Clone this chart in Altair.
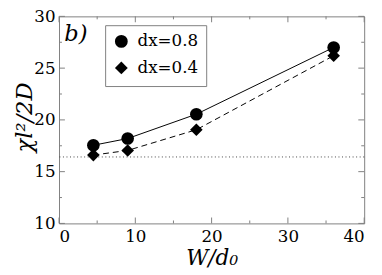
import altair as alt
import pandas as pd

# ---- data ----
w_vals = [4.5, 9.0, 18.0, 36.0]
chi_dx08 = [17.55, 18.2, 20.55, 27.0]
chi_dx04 = [16.6, 17.05, 19.05, 26.2]
series_names = ["dx=0.8", "dx=0.4"]
baseline_value = [16.42]
x_major_ticks = [0, 10, 20, 30, 40]
x_minor_ticks = [5, 15, 25, 35]
y_major_ticks = [10, 15, 20, 25, 30]
y_minor_ticks = [12.5, 17.5, 22.5, 27.5]
x_range = [0, 40]
y_range = [10, 30]
panel_text = ["b)"]
panel_pos_x = [2.2]
panel_pos_y = [28.3]

rows = []
for name, vals in zip(series_names, [chi_dx08, chi_dx04]):
    for w, v in zip(w_vals, vals):
        rows.append({"W": w, "chi": v, "series": name})
df = pd.DataFrame(rows)
base_df = pd.DataFrame({"chi": baseline_value})
txt_df = pd.DataFrame({"W": panel_pos_x, "chi": panel_pos_y, "t": panel_text})

W, H = 311, 211
FONT = "DejaVu Serif"
GRAY = "#808080"
MAJ, MIN = 6, 3

xs = alt.Scale(domain=x_range, nice=False, zero=False)
ys = alt.Scale(domain=y_range, nice=False, zero=False)

x_axis = alt.Axis(values=x_major_ticks, ticks=False, tickSize=0, domain=False, grid=False,
                  labelFont=FONT, labelFontSize=17, labelColor="black", labelPadding=5,
                  title="W/d₀", titleFont=FONT, titleFontSize=22, titleFontStyle="italic",
                  titleFontWeight="normal", titleColor="black", titleBaseline="alphabetic",
                  titleY=42, titleX=W / 2, titleAlign="center")
y_axis = alt.Axis(values=y_major_ticks, ticks=False, tickSize=0, domain=False, grid=False,
                  labelFont=FONT, labelFontSize=17, labelColor="black", labelPadding=4,
                  title="χl²/2D", titleFont=FONT, titleFontSize=23, titleFontStyle="italic",
                  titleFontWeight="normal", titleColor="black", titleBaseline="alphabetic",
                  titleX=-28, titleY=H / 2 - 3, titleAlign="center", titleAngle=270)

dotted = alt.Chart(base_df).mark_rule(color="#444444", strokeWidth=1, strokeDash=[1, 2.6]).encode(
    y=alt.Y("chi:Q", scale=ys),
)


def x_tick_layer(vals, y0, y1):
    d = pd.DataFrame({"W": vals})
    return alt.Chart(d).mark_rule(color=GRAY, strokeWidth=1).encode(
        x=alt.X("W:Q", scale=xs), y=alt.value(y0), y2=alt.value(y1))


def y_tick_layer(vals, x0, x1):
    d = pd.DataFrame({"chi": vals})
    return alt.Chart(d).mark_rule(color=GRAY, strokeWidth=1).encode(
        y=alt.Y("chi:Q", scale=ys), x=alt.value(x0), x2=alt.value(x1))


tick_layers = [
    x_tick_layer(x_major_ticks, H, H - MAJ),
    x_tick_layer(x_minor_ticks, H, H - MIN),
    x_tick_layer(x_major_ticks, 0, MAJ),
    x_tick_layer(x_minor_ticks, 0, MIN),
    y_tick_layer(y_major_ticks, 0, MAJ),
    y_tick_layer(y_minor_ticks, 0, MIN),
    y_tick_layer(y_major_ticks, W, W - MAJ),
    y_tick_layer(y_minor_ticks, W, W - MIN),
]

line08 = alt.Chart(df).transform_filter(alt.datum.series == series_names[0]).mark_line(
    color="black", strokeWidth=1).encode(x=alt.X("W:Q", scale=xs, axis=x_axis),
                                         y=alt.Y("chi:Q", scale=ys, axis=y_axis))
line04 = alt.Chart(df).transform_filter(alt.datum.series == series_names[1]).mark_line(
    color="black", strokeWidth=1, strokeDash=[6, 4]).encode(x=alt.X("W:Q", scale=xs), y=alt.Y("chi:Q", scale=ys))

leg = alt.Legend(title=None, orient="none", legendX=47, legendY=9, strokeColor=GRAY, fillColor="white",
                 padding=8, labelFont=FONT, labelFontSize=17, labelColor="black", labelOffset=8,
                 symbolFillColor="black", symbolStrokeColor="black", rowPadding=6, symbolSize=170)

points = alt.Chart(df).mark_point(filled=True, color="black", opacity=1, size=165).encode(
    x=alt.X("W:Q", scale=xs),
    y=alt.Y("chi:Q", scale=ys),
    shape=alt.Shape("series:N", scale=alt.Scale(domain=series_names, range=["circle", "diamond"]),
                    legend=leg),
)

label = alt.Chart(txt_df).mark_text(font=FONT, fontSize=23, fontStyle="italic", color="black",
                                    align="center", baseline="middle").encode(
    x=alt.X("W:Q", scale=xs),
    y=alt.Y("chi:Q", scale=ys),
    text="t:N",
)

chart = alt.layer(line08, dotted, *tick_layers, line04, points, label).properties(
    width=W, height=H,
    autosize=alt.AutoSizeParams(type="none"),
    padding={"left": 52, "top": 6, "right": 10, "bottom": 48},
).configure_view(stroke=GRAY, strokeWidth=1)

chart.save("out.html", embed_options={"renderer": "svg", "actions": False})
